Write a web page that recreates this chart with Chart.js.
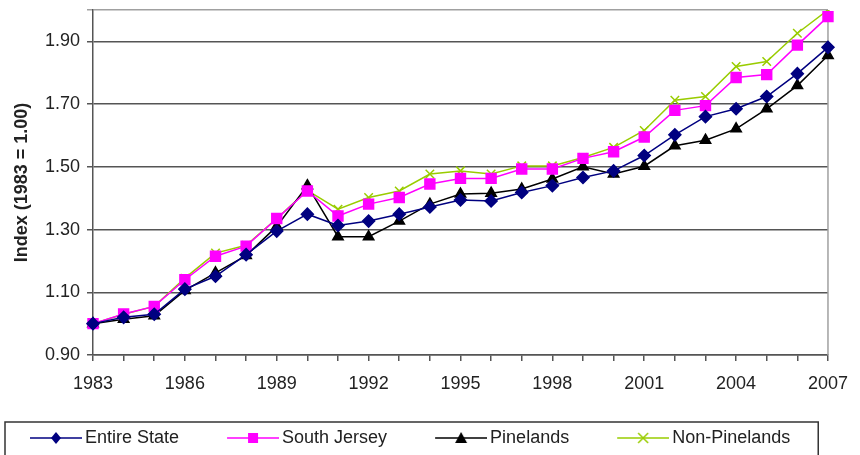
<!DOCTYPE html>
<html>
<head>
<meta charset="utf-8">
<script src="https://cdn.jsdelivr.net/npm/chart.js@4.4.0/dist/chart.umd.min.js"></script>
<style>
  html, body { margin: 0; padding: 0; background: #fff; }
</style>
</head>
<body>
<canvas id="chart" width="860" height="455"></canvas>
<script>
const years = [1983, 1984, 1985, 1986, 1987, 1988, 1989, 1990, 1991, 1992, 1993, 1994, 1995,
  1996, 1997, 1998, 1999, 2000, 2001, 2002, 2003, 2004, 2005, 2006, 2007];

const entireState = [1.00, 1.02, 1.03, 1.11, 1.151, 1.22, 1.295, 1.349, 1.313, 1.327, 1.349, 1.372, 1.394,
  1.391, 1.418, 1.44, 1.466, 1.487, 1.536, 1.602, 1.66, 1.685, 1.724, 1.797, 1.881];
const southJersey = [1.00, 1.031, 1.055, 1.14, 1.215, 1.247, 1.335, 1.423, 1.343, 1.381, 1.402, 1.445, 1.463,
  1.463, 1.493, 1.493, 1.527, 1.548, 1.595, 1.68, 1.695, 1.785, 1.794, 1.888, 1.979];
const pinelands = [1.00, 1.014, 1.025, 1.106, 1.162, 1.217, 1.31, 1.44, 1.277, 1.277, 1.327, 1.381, 1.413,
  1.416, 1.429, 1.461, 1.50, 1.477, 1.502, 1.567, 1.585, 1.621, 1.685, 1.759, 1.855];
const nonPinelands = [1.00, 1.03, 1.055, 1.145, 1.225, 1.25, 1.335, 1.425, 1.365, 1.402, 1.423, 1.477, 1.487,
  1.477, 1.503, 1.503, 1.53, 1.562, 1.616, 1.712, 1.724, 1.82, 1.836, 1.926, 2.0];

const yTicks = [0.9, 1.1, 1.3, 1.5, 1.7, 1.9, 2.0];
const labelEvery = 3;

const FONT = '"Liberation Sans", Arial, sans-serif';
Chart.defaults.font.family = FONT;
Chart.defaults.font.size = 18;
Chart.defaults.color = "#222";

// little line + marker pictures for the legend
const makeIcon = (color, marker) => {
  const c = document.createElement("canvas");
  c.width = 92;
  c.height = 16;
  const g = c.getContext("2d");
  const cx = 66, cy = 8;
  g.strokeStyle = color;
  g.fillStyle = color;
  g.lineWidth = 1.5;
  g.beginPath();
  g.moveTo(40, cy);
  g.lineTo(92, cy);
  g.stroke();
  g.beginPath();
  if (marker === "diamond") {
    g.moveTo(cx, cy - 6); g.lineTo(cx + 5, cy); g.lineTo(cx, cy + 6); g.lineTo(cx - 5, cy);
    g.closePath(); g.fill();
  } else if (marker === "square") {
    g.rect(cx - 5, cy - 5, 10, 10); g.fill();
  } else if (marker === "triangle") {
    g.moveTo(cx, cy - 6); g.lineTo(cx + 6, cy + 5); g.lineTo(cx - 6, cy + 5);
    g.closePath(); g.fill();
  } else {
    g.moveTo(cx - 5, cy - 5); g.lineTo(cx + 5, cy + 5);
    g.moveTo(cx + 5, cy - 5); g.lineTo(cx - 5, cy + 5);
    g.stroke();
  }
  return c;
};

const legendIcons = [
  makeIcon("#000080", "diamond"),
  makeIcon("#ff00ff", "square"),
  makeIcon("#000000", "triangle"),
  makeIcon("#99cc00", "cross"),
];

const plotFrame = {
  id: "plotFrame",
  beforeDatasetsDraw(chart) {
    const { ctx, chartArea } = chart;
    ctx.save();
    ctx.strokeStyle = "#a0a0a0";
    ctx.lineWidth = 1.5;
    ctx.beginPath();
    ctx.moveTo(chartArea.right, chartArea.top);
    ctx.lineTo(chartArea.right, chartArea.bottom);
    ctx.stroke();
    ctx.restore();
  },
  afterDraw(chart) {
    const hb = chart.legend.legendHitBoxes;
    if (!hb || !hb.length) return;
    const first = hb[0];
    const last = hb[hb.length - 1];
    const ctx = chart.ctx;
    ctx.save();
    ctx.strokeStyle = "#333";
    ctx.lineWidth = 1.5;
    const left = first.left + 9;
    const right = last.left + last.width + 28;
    ctx.strokeRect(left, first.top - 7, right - left, 60);
    ctx.restore();
  },
};

const ctx = document.getElementById("chart");

new Chart(ctx, {
  type: "line",
  data: {
    labels: years,
    datasets: [
      {
        label: "Entire State",
        data: entireState,
        borderColor: "#000080",
        backgroundColor: "#000080",
        borderWidth: 1.5,
        pointStyle: "rectRot",
        pointRadius: 6,
      },
      {
        label: "South Jersey",
        data: southJersey,
        borderColor: "#ff00ff",
        backgroundColor: "#ff00ff",
        borderWidth: 1.5,
        pointStyle: "rect",
        pointRadius: 7,
      },
      {
        label: "Pinelands",
        data: pinelands,
        borderColor: "#000000",
        backgroundColor: "#000000",
        borderWidth: 1.5,
        pointStyle: "triangle",
        pointRadius: 6,
      },
      {
        label: "Non-Pinelands",
        data: nonPinelands,
        borderColor: "#99cc00",
        backgroundColor: "#99cc00",
        borderWidth: 1.5,
        pointStyle: "crossRot",
        pointRadius: 6,
        pointBorderWidth: 1.5,
      },
    ],
  },
  options: {
    responsive: false,
    animation: false,
    layout: { padding: { left: -18, right: 22, top: 10, bottom: -2 } },
    elements: { line: { tension: 0 } },
    scales: {
      x: {
        type: "category",
        offset: false,
        grid: { drawOnChartArea: false, color: "#555", lineWidth: 1.5, tickLength: 6 },
        border: { color: "#555", width: 1.5 },
        ticks: {
          autoSkip: false,
          maxRotation: 0,
          padding: 12,
          callback: function (value, index) {
            return index % labelEvery === 0 ? years[index] : "";
          },
        },
        afterFit: (scale) => { scale.height = 60; },
      },
      y: {
        min: 0.9,
        max: 2.0,
        afterBuildTicks: (scale) => {
          scale.ticks = yTicks.map((v) => ({ value: v }));
        },
        afterFit: (scale) => {
          scale.width = 111;
          scale.paddingTop = 0;
        },
        grid: {
          color: (c) => (c.tick && c.tick.value === 2.0 ? "#a0a0a0" : "#555"),
          lineWidth: 1.5,
          tickLength: 6,
        },
        border: { color: "#555", width: 1.5 },
        ticks: {
          padding: 7,
          callback: function (value) {
            return value === 2.0 ? "" : value.toFixed(2);
          },
        },
        title: {
          display: true,
          text: "Index (1983 = 1.00)",
          font: { size: 18, weight: "bold" },
          padding: { top: 29, bottom: 0 },
        },
      },
    },
    plugins: {
      tooltip: { enabled: false },
      legend: {
        position: "bottom",
        align: "start",
        labels: {
          usePointStyle: true,
          pointStyleWidth: 80,
          padding: 14,
          font: { size: 18 },
          generateLabels: (chart) =>
            chart.data.datasets.map((ds, i) => ({
              text: ds.label,
              pointStyle: legendIcons[i],
              fillStyle: ds.borderColor,
              strokeStyle: ds.borderColor,
              lineWidth: 0,
              hidden: false,
              datasetIndex: i,
              fontColor: "#222",
            })),
        },
      },
    },
  },
  plugins: [plotFrame],
});
</script>
</body>
</html>
